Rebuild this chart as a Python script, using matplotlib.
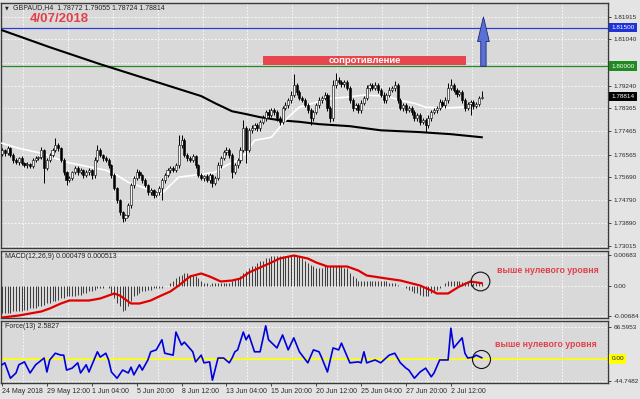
import matplotlib
matplotlib.use('Agg')
import matplotlib.pyplot as plt
import numpy as np
from matplotlib.patches import Rectangle, FancyArrow

plt.rcParams['font.family'] = ['Liberation Sans', 'DejaVu Sans']

##---------------------------data-------------------------------##
open_first = 1.7660
close_prices = [
    1.7674, 1.7662, 1.7681, 1.7654, 1.7635, 1.7627, 1.7642, 1.7623, 1.7615, 1.7619,
    1.7611, 1.7635, 1.7642, 1.7646, 1.7674, 1.7604, 1.7635, 1.7654, 1.7674, 1.7693,
    1.7681, 1.7635, 1.7588, 1.7557, 1.7565, 1.7588, 1.7604, 1.7588, 1.7596, 1.7576,
    1.7588, 1.7596, 1.7576, 1.7635, 1.7674, 1.7654, 1.7642, 1.7635, 1.7615, 1.7576,
    1.7526, 1.7479, 1.7432, 1.7409, 1.7421, 1.7460, 1.7537, 1.7565, 1.7588, 1.7576,
    1.7557, 1.7537, 1.7510, 1.7518, 1.7498, 1.7510, 1.7526, 1.7557, 1.7576, 1.7596,
    1.7604, 1.7596, 1.7615, 1.7693, 1.7712, 1.7654, 1.7642, 1.7635, 1.7650, 1.7615,
    1.7576, 1.7565, 1.7572, 1.7557, 1.7576, 1.7545, 1.7565, 1.7615, 1.7642, 1.7666,
    1.7674, 1.7654, 1.7588, 1.7615, 1.7635, 1.7674, 1.7759, 1.7674, 1.7751, 1.7759,
    1.7771, 1.7759, 1.7783, 1.7798, 1.7821, 1.7810, 1.7829, 1.7821, 1.7798, 1.7783,
    1.7837, 1.7849, 1.7868, 1.7888, 1.7926, 1.7899, 1.7876, 1.7868, 1.7849, 1.7829,
    1.7798, 1.7821, 1.7849, 1.7868, 1.7876, 1.7888, 1.7837, 1.7798, 1.7926, 1.7946,
    1.7938, 1.7930, 1.7938, 1.7915, 1.7868, 1.7837, 1.7849, 1.7829, 1.7856, 1.7876,
    1.7915, 1.7926, 1.7915, 1.7926, 1.7907, 1.7888, 1.7868, 1.7888, 1.7907, 1.7915,
    1.7926, 1.7868, 1.7837, 1.7849, 1.7829, 1.7837, 1.7821, 1.7798, 1.7810, 1.7783,
    1.7790, 1.7771, 1.7798, 1.7821, 1.7829, 1.7837, 1.7860, 1.7849, 1.7868, 1.7915,
    1.7926, 1.7907, 1.7891, 1.7899, 1.7868, 1.7837, 1.7852, 1.7860, 1.7845, 1.7852,
    1.78772, 1.78814]
# wick lengths in pips (0.0001)
upper_wick = [
    8, 6, 10, 5, 7, 9, 6, 8, 5, 7,
    6, 9, 8, 7, 12, 6, 8, 10, 9, 27,
    8, 6, 7, 5, 9, 6, 10, 7, 8, 6,
    9, 7, 6, 12, 19, 8, 6, 9, 7, 5,
    8, 6, 7, 5, 6, 9, 10, 8, 12, 7,
    6, 8, 5, 9, 6, 7, 8, 10, 9, 7,
    8, 9, 10, 39, 20, 8, 9, 10, 8, 7,
    6, 9, 7, 8, 10, 6, 8, 12, 9, 10,
    14, 8, 7, 10, 9, 12, 31, 10, 9, 12,
    8, 10, 9, 11, 8, 12, 9, 10, 8, 9,
    10, 12, 9, 14, 43, 10, 9, 8, 10, 7,
    9, 10, 8, 12, 9, 11, 8, 10, 20, 27,
    12, 9, 10, 8, 7, 9, 10, 8, 11, 9,
    12, 10, 9, 11, 8, 9, 10, 8, 12, 10,
    15, 8, 9, 10, 7, 9, 8, 10, 9, 8,
    10, 9, 12, 8, 10, 9, 11, 8, 14, 20,
    24, 10, 9, 8, 7, 9, 10, 8, 9, 10,
    8, 24]
lower_wick = [
    7, 9, 6, 8, 10, 7, 9, 6, 8, 10,
    7, 8, 9, 6, 7, 59, 9, 8, 7, 6,
    9, 8, 10, 20, 7, 9, 8, 12, 7, 9,
    8, 10, 14, 9, 8, 7, 9, 8, 10, 9,
    8, 10, 9, 15, 12, 8, 9, 10, 8, 9,
    10, 8, 12, 9, 10, 8, 9, 47, 10, 8,
    9, 7, 8, 10, 9, 8, 10, 7, 9, 10,
    8, 9, 10, 8, 9, 15, 8, 9, 10, 8,
    9, 10, 23, 8, 9, 10, 8, 51, 9, 10,
    8, 9, 10, 8, 9, 10, 8, 9, 12, 10,
    9, 8, 10, 9, 8, 10, 9, 8, 9, 12,
    27, 9, 8, 10, 9, 8, 12, 15, 9, 10,
    8, 9, 10, 9, 12, 10, 8, 9, 10, 8,
    9, 10, 8, 9, 10, 8, 9, 10, 8, 9,
    10, 9, 8, 10, 9, 8, 10, 12, 9, 10,
    9, 27, 10, 9, 8, 10, 9, 8, 10, 9,
    8, 9, 10, 8, 9, 10, 9, 40, 10, 9,
    8, 5]

ma_slow_idx = [0, 17, 35, 53, 71, 76, 82, 87, 92, 99, 106, 113, 124, 135, 149, 160, 171]
ma_slow = [1.8140, 1.8074, 1.8008, 1.7946, 1.7884, 1.7856, 1.7825, 1.7814, 1.7802,
           1.7790, 1.7784, 1.7775, 1.7767, 1.7751, 1.7744, 1.7736, 1.7724]
ma_fast_idx = [0, 6, 14, 23, 32, 37, 41, 45, 49, 53, 57, 60, 63, 68, 76, 80, 84, 87,
               90, 96, 102, 106, 112, 118, 123, 129, 137, 142, 147, 151, 157, 164, 170]
ma_fast = [1.7701, 1.7681, 1.7662, 1.7627, 1.7607, 1.7596, 1.7576, 1.7549, 1.7534,
           1.7518, 1.7506, 1.7538, 1.7569, 1.7576, 1.7588, 1.7615, 1.7635, 1.7662,
           1.7712, 1.7724, 1.7802, 1.7841, 1.7860, 1.7876, 1.7880, 1.7888, 1.7884,
           1.7868, 1.7856, 1.7841, 1.7837, 1.7841, 1.7849]

# MACD main, in units of 0.001
macd_main = [
    -6.27, -6.27, -6.05, -6.05, -5.82, -5.82, -5.60, -5.60, -5.38, -5.38,
    -5.15, -5.15, -4.93, -4.70, -4.48, -4.26, -4.03, -3.81, -3.58, -3.36,
    -3.14, -2.91, -2.69, -2.46, -2.46, -2.24, -2.24, -2.02, -2.02, -1.79,
    -1.57, -1.34, -1.12, -0.90, -0.67, -0.45, -0.45, -0.22, -0.67, -1.57,
    -2.69, -3.81, -4.70, -5.60, -5.38, -4.48, -3.36, -2.46, -2.02, -1.57,
    -1.34, -1.12, -0.90, -0.90, -0.67, -0.45, -0.45, -0.45, -0.22, 0.0,
    0.67, 1.12, 1.57, 2.02, 2.46, 2.69, 2.69, 2.46, 2.24, 2.02,
    1.57, 1.12, 0.67, 0.45, 0.22, 0.45, 0.45, 0.67, 0.67, 0.45,
    0.45, 0.67, 0.90, 1.34, 1.79, 2.24, 2.91, 3.36, 3.81, 4.26,
    4.48, 4.93, 5.38, 5.60, 6.05, 6.27, 6.50, 6.50, 6.72, 6.72,
    6.50, 6.72, 6.72, 6.94, 6.94, 6.72, 6.50, 6.05, 5.60, 5.15,
    4.70, 4.26, 4.03, 4.03, 4.03, 4.26, 4.26, 4.48, 4.48, 4.48,
    4.26, 4.26, 4.03, 3.81, 2.91, 2.24, 1.57, 1.12, 1.12, 0.90,
    0.90, 0.90, 1.12, 1.12, 1.12, 0.90, 0.90, 0.90, 0.67, 0.67,
    0.45, 0.22, 0.0, -0.22, -0.45, -0.90, -1.34, -1.57, -1.79, -2.02,
    -2.24, -2.46, -2.24, -1.79, -1.34, -0.90, -0.45, 0.0, 0.45, 0.90,
    1.12, 1.12, 0.90, 0.90, 0.80, 0.75, 0.70, 0.65, 0.60, 0.55,
    0.50, 0.479]
signal_idx = [0, 6, 14, 17, 21, 24, 28, 31, 35, 40, 42, 46, 49, 53, 56, 60, 63, 67, 71,
              74, 78, 82, 85, 88, 92, 96, 99, 104, 109, 112, 116, 123, 127, 130, 137,
              142, 149, 153, 155, 159, 163, 167, 171]
signal = [-7.17, -6.72, -5.82, -5.15, -4.03, -3.36, -3.36, -3.36, -2.91, -1.79, -2.24,
          -4.03, -4.03, -3.36, -2.46, -1.34, 0.0, 2.02, 2.69, 2.02, 0.90, 1.12, 1.57,
          2.91, 4.03, 5.15, 6.05, 6.72, 6.05, 5.15, 4.26, 4.26, 3.36, 2.24, 1.57, 1.12,
          0.0, -1.12, -1.79, -1.79, -0.22, 0.90, 0.513]

force_idx = [0, 1, 3, 5, 6, 8, 10, 12, 15, 16, 17, 19, 21, 22, 23, 25, 27, 28, 30, 31,
             34, 35, 37, 38, 39, 41, 43, 45, 46, 47, 49, 50, 52, 53, 55, 57, 58, 61, 62,
             64, 65, 68, 69, 71, 72, 74, 75, 77, 79, 81, 82, 83, 84, 86, 87, 88, 90, 92,
             94, 95, 98, 100, 102, 104, 106, 109, 111, 113, 114, 116, 118, 120, 121, 124,
             127, 128, 129, 130, 133, 135, 138, 140, 142, 144, 145, 147, 149, 151, 153,
             154, 156, 159, 160, 161, 164, 165, 166, 168, 169, 171]
force = [-12, -8, -40, -29, -12, -6, -29, -12, 2, -27, -2, 12, 8, 8, -23, -19, -8, -29,
         -12, -27, 15, 4, 12, -2, -27, -40, -23, -29, -17, -33, -12, -23, -2, 15, 19, 40,
         12, 8, 56, 29, 35, 15, -6, 8, -8, -6, -44, 2, 2, -8, 2, 15, 19, 56, 40, 50, 15,
         15, 69, 40, 23, 50, 19, 44, 15, -8, 19, 15, 2, -27, 23, 19, 33, -8, -6, -8, 15,
         -8, -2, -8, 8, 12, -8, -19, -23, -40, -27, -19, -37, -29, -2, -2, 64, 23, 44, 12,
         2, 4, 8, 2.5827]

price_ticks = [1.81915, 1.81040, 1.80140, 1.79240, 1.78365, 1.77465, 1.76565, 1.75690,
               1.74790, 1.73890, 1.73015]
macd_ticks = [0.00683, 0.0, -0.00684]
macd_tick_labels = ['0.00683', '0.00', '-0.00684']
force_ticks = [66.5953, 0.0, -44.7482]
force_tick_labels = ['66.5953', '', '-44.7482']
date_idx = [0, 16, 32, 48, 64, 80, 96, 112, 128, 144, 160]
date_labels = ['24 May 2018', '29 May 12:00', '1 Jun 04:00', '5 Jun 20:00', '8 Jun 12:00',
               '13 Jun 04:00', '15 Jun 20:00', '20 Jun 12:00', '25 Jun 04:00',
               '27 Jun 20:00', '2 Jul 12:00']

level_target = 1.81500
level_break = 1.80000
zone_bars = (93.0, 165.4)
zone_prices = (1.8003, 1.8040)
arrow_top = 1.8192

##---------------------------drawing-------------------------------##
W, H = 640, 399
PLOT_BG = '#d9d9d9'
OUT_BG = '#e4e4e4'
RED_TXT = '#e2404c'


def fig_box(left, top, right, bottom):
    return [left / W, 1 - bottom / H, (right - left) / W, (bottom - top) / H]


fig = plt.figure(figsize=(6.4, 3.99), dpi=100)
fig.patch.set_facecolor(OUT_BG)
ax_p = fig.add_axes(fig_box(1, 3, 608, 248))
ax_m = fig.add_axes(fig_box(1, 251, 608, 318))
ax_f = fig.add_axes(fig_box(1, 321, 608, 383))

n = len(close_prices)
idx = np.arange(n)
close = np.array(close_prices)
open_ = np.r_[open_first, close[:-1]]
high = np.maximum(open_, close) + np.array(upper_wick) * 1e-4
low = np.minimum(open_, close) - np.array(lower_wick) * 1e-4

for ax in (ax_p, ax_m, ax_f):
    ax.set_facecolor(PLOT_BG)
    ax.set_xlim(-0.36, 216.0)
    for s in ax.spines.values():
        s.set_color('#3a3a3a')
        s.set_linewidth(1.0)
    ax.yaxis.tick_right()
    ax.tick_params(axis='y', direction='out', length=2.2, width=0.6, pad=2.0,
                   labelsize=4.6, colors='#2a2a2a')
    ax.tick_params(axis='x', bottom=False, labelbottom=False)
    for g in np.arange(7.5, 216, 16):
        ax.axvline(g, color='white', lw=0.6, ls=(0, (2, 2)), zorder=0.5)
    ax.set_axisbelow(True)

# price panel
ax_p.set_ylim(1.72937, 1.82457)
ax_p.set_yticks(price_ticks)
ax_p.set_yticklabels(['' if v == 1.80140 else '%.5f' % v for v in price_ticks])
ax_p.grid(axis='y', color='white', lw=0.6, ls=(0, (2, 2)))

ax_p.axhline(level_target, color='#2b3bd8', lw=0.9, zorder=2)
ax_p.axhline(level_break, color='#228b22', lw=0.9, zorder=2)
ax_p.plot(ma_slow_idx, ma_slow, color='black', lw=1.5, zorder=3)
ax_p.plot(ma_fast_idx, ma_fast, color='white', lw=1.2, zorder=3)

bull = close >= open_
ax_p.vlines(idx, low, high, color='black', lw=0.7, zorder=4)
body_h = np.where(np.abs(close - open_) < 1e-5, 1e-5, close - open_)
ax_p.bar(idx, body_h, bottom=open_, width=0.75,
         color=np.where(bull, '#f4f4f4', 'black'), edgecolor='black', lw=0.4, zorder=5)

ax_p.add_patch(Rectangle((zone_bars[0], zone_prices[0]), zone_bars[1] - zone_bars[0],
                         zone_prices[1] - zone_prices[0], fc='#e8464e', ec='none', zorder=6))
ax_p.text((zone_bars[0] + zone_bars[1]) / 2, sum(zone_prices) / 2, 'сопротивление',
          ha='center', va='center', color='white', fontsize=6.8, weight='bold', zorder=7)
ax_p.add_patch(FancyArrow(171.6, level_break, 0, arrow_top - level_break, width=1.9,
                          head_width=4.2, head_length=0.0096, length_includes_head=True,
                          fc='#5b70d6', ec='#1c2870', lw=0.6, zorder=7))


def axis_badge(ax, value, text, fc, tc='white'):
    ax.annotate(text, xy=(1, value), xycoords=('axes fraction', 'data'), xytext=(2.6, 0),
                textcoords='offset points', ha='left', va='center', fontsize=4.6, color=tc,
                bbox=dict(boxstyle='square,pad=0.35', fc=fc, ec='none'),
                annotation_clip=False, zorder=8)


axis_badge(ax_p, level_target, '1.81500', '#1e32d8')
axis_badge(ax_p, level_break, '1.80000', '#1f8a1f')
axis_badge(ax_p, close[-1], '%.5f' % close[-1], 'black')

# MACD panel
macd = np.array(macd_main) * 1e-3
ax_m.set_ylim(-0.00728, 0.00773)
ax_m.set_yticks(macd_ticks)
ax_m.set_yticklabels(macd_tick_labels)
ax_m.grid(axis='y', color='white', lw=0.6, ls=(0, (2, 2)))
ax_m.vlines(idx, 0, macd, color='#3a3a3a', lw=0.7, zorder=3)
ax_m.plot(signal_idx, np.array(signal) * 1e-3, color='#e00000', lw=1.6, zorder=4)
ax_m.plot(170.3, 0.0010, 'o', ms=13.5, mfc='none', mec='#111111', mew=0.8, zorder=5)
ax_m.text(176.4, 0.00325, 'выше нулевого уровня', color=RED_TXT, fontsize=6.3,
          weight='bold', va='center', ha='left')

# Force panel
ax_f.set_ylim(-49.9, 79.0)
ax_f.set_yticks(force_ticks)
ax_f.set_yticklabels(force_tick_labels)
ax_f.grid(axis='y', color='white', lw=0.6, ls=(0, (2, 2)))
ax_f.axhline(0, color='#ffff00', lw=1.2, zorder=2)
ax_f.plot(force_idx, force, color='#0000dc', lw=1.2, zorder=3)
ax_f.plot(170.7, 1.0, 'o', ms=13, mfc='none', mec='#111111', mew=0.8, zorder=5)
ax_f.text(175.7, 31, 'выше нулевого уровня', color=RED_TXT, fontsize=6.3,
          weight='bold', va='center', ha='left')
axis_badge(ax_f, 0.0, '0.00', '#ffff00', tc='#222222')

ax_f.set_xticks(date_idx)
ax_f.set_xticklabels(date_labels)
ax_f.tick_params(axis='x', bottom=True, labelbottom=True, direction='out', length=2.5,
                 width=0.6, pad=1.2, labelsize=5, colors='#2a2a2a')
for lab in ax_f.get_xticklabels():
    lab.set_ha('left')

# header texts
fig.text(5 / W, 1 - 7.5 / H, '▼', fontsize=3.5, family='DejaVu Sans', color='#222222',
         va='center')
fig.text(13 / W, 1 - 7.5 / H, 'GBPAUD,H4  1.78772 1.79055 1.78724 1.78814', fontsize=5,
         color='#222222', va='center')
fig.text(30 / W, 1 - 19.5 / H, '4/07/2018', fontsize=9.5, weight='bold', color=RED_TXT,
         va='center')
fig.text(5 / W, 1 - 256 / H, 'MACD(12,26,9) 0.000479 0.000513', fontsize=5,
         color='#222222', va='center')
fig.text(5 / W, 1 - 327 / H, 'Force(13) 2.5827', fontsize=5, color='#222222', va='center')

fig.savefig('out.png', dpi=100, facecolor=fig.get_facecolor())
